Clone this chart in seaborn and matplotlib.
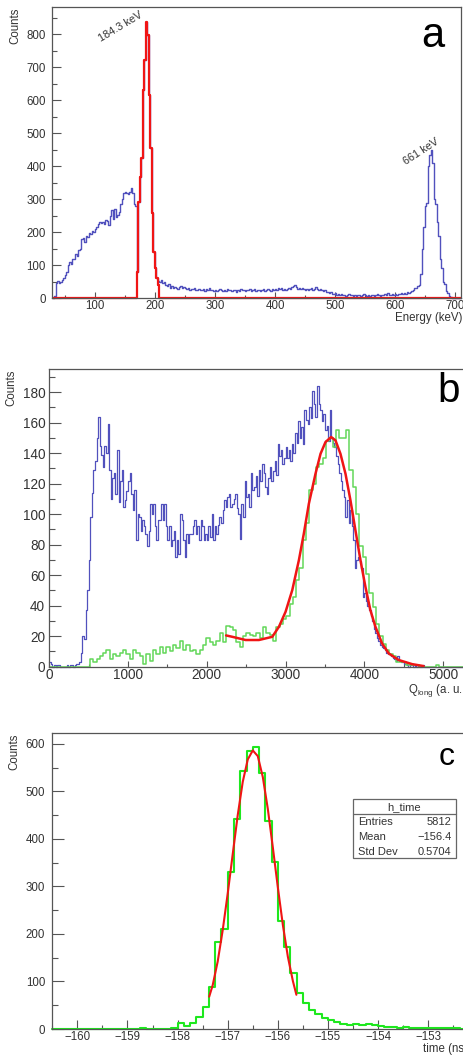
import numpy as np
import matplotlib
matplotlib.use("Agg")
import matplotlib.pyplot as plt
from matplotlib.patches import Rectangle
from matplotlib.ticker import MultipleLocator
import seaborn as sns

# ---------------- panel a : energy spectrum, 2.5 keV bins ----------------
a_start, a_width = 29.5, 2.5
a_blue = [
    0, 8, 45, 52, 45, 50, 55, 62, 72, 80,
    100, 110, 105, 118, 120, 135, 128, 145, 150, 180,
    182, 170, 190, 185, 198, 195, 205, 200, 210, 215,
    225, 232, 228, 230, 226, 238, 234, 222, 250, 268,
    240, 272, 245, 252, 262, 285, 300, 318, 322, 320,
    315, 322, 333, 318, 285, 280, 81, 293, 369, 424,
    631, 722, 838, 798, 616, 455, 258, 141, 91, 61,
    52,
    48, 55, 45, 50, 40, 38, 42, 32, 36, 30,
    34, 30, 28, 33, 38, 30, 35, 32, 28, 30,
    26, 29, 27, 31, 26, 25, 28, 26, 24, 29,
    22, 27, 25, 30, 24, 26, 23, 25, 22, 26,
    28, 24, 22, 25, 23, 27, 24, 26, 22, 25,
    24, 20, 26, 23, 28, 24, 25, 22, 26, 24,
    27, 22, 24, 27, 23, 26, 24, 22, 25, 27,
    23, 26, 28, 25, 22, 27, 24, 28, 25, 30,
    27, 31, 26, 29, 25, 28, 30, 27, 33, 36,
    40, 33, 29, 31, 27, 30, 28, 26, 29, 24,
    27, 30, 26, 29, 33, 27, 25, 28, 24, 21,
    24, 19, 20, 16, 18, 14, 12, 15, 11, 13,
    10, 12, 9, 11, 8, 10, 12, 9, 11, 8,
    10, 7, 9, 11, 8, 10, 12, 9, 7, 10,
    8, 11, 9, 7, 10, 12, 9, 8, 11, 9,
    13, 10, 16, 11, 9, 12, 10, 13, 11, 14,
    12, 15, 13, 16, 14, 18, 15, 19, 22, 25,
    30, 32, 38, 40, 75, 150, 215, 280, 290, 400,
    435, 450, 410, 300, 285, 230, 190, 120, 92, 50,
    42, 22, 15, 8, 4, 2, 1, 0, 1, 0, 0,
]
a_red_from = 169.5
a_red = [81, 293, 369, 424, 631, 722, 838, 798, 616, 455, 258, 141, 91, 61, 40]

# ---------------- panel b : Q_long, blue 20 a.u. bins, green 42.25 a.u. bins ----------------
b_blue_start, b_blue_width = 0.0, 20.0
b_blue = [
    3, 2, 0, 1, 0, 1, 1, 0, 0, 0,
    0, 1, 0, 1, 1, 0, 1, 2, 2, 3,
    9, 20, 18, 37, 50, 70, 98, 114, 129, 135,
    150, 164, 145, 139, 131, 145, 140, 159, 129, 110,
    124, 127, 113, 142, 108, 122, 129, 105, 109, 115,
    122, 127, 113, 103, 116, 83, 100, 98, 89, 96,
    92, 87, 79, 89, 107, 100, 107, 92, 83, 96,
    96, 107, 96, 107, 92, 83, 92, 79, 83, 89,
    72, 83, 74, 100, 96, 83, 72, 87, 81, 87,
    87, 92, 96, 87, 92, 83, 96, 92, 83, 87,
    83, 92, 85, 100, 83, 92, 87, 93, 98, 94,
    103, 109, 105, 111, 113, 105, 107, 110, 113, 104,
    100, 84, 107, 98, 122, 111, 113, 105, 127, 116,
    118, 125, 112, 129, 122, 133, 127, 118, 113, 124,
    131, 122, 128, 135, 126, 146, 138, 142, 133, 137,
    144, 137, 142, 135, 146, 140, 153, 147, 161, 150,
    157, 146, 168, 162, 159, 170, 163, 181, 172, 164,
    184, 172, 168, 161, 166, 155, 158, 148, 168, 150,
    147, 144, 138, 133, 127, 122, 116, 111, 98, 109,
    94, 103, 92, 83, 65, 70, 72, 69, 65, 46,
    48, 43, 40, 37, 33, 30, 25, 22, 19, 17,
    14, 13, 12, 11, 9, 8, 8, 7, 6, 5,
    4, 7, 4, 3, 3, 2, 2, 1, 0, 1,
    1, 0, 1, 0, 1, 0, 0, 1, 0, 0,
    0, 0, 0, 0, 0, 0, 0, 0, 0, 0,
    0, 0, 0, 0, 0, 0, 0, 0, 0, 0,
    0, 0, 0, 0, 0,
]
b_green_start, b_green_width = 8.0, 42.25
b_green = [
    0, 0, 0, 0, 0, 0, 0, 0, 0, 0, 0, 0,
    5, 3, 5, 7, 9, 11, 5, 8, 7, 9, 11, 8, 5, 11, 9, 7, 2, 8, 4, 11, 8,
    13, 9, 13, 10, 14, 12, 17, 11, 14, 10, 11, 8, 11, 14, 19, 16, 14, 17,
    22, 16, 27, 26,
    24, 16, 13, 20, 22, 21, 20, 22, 19, 26, 22, 21, 17, 26, 28, 31, 33,
    41, 46, 57, 65, 83, 94, 116, 120, 131, 133, 137, 148, 150, 144, 155,
    150, 150, 155, 129, 118, 100, 79, 72, 61, 48, 39, 28, 20, 15, 11, 8,
    7, 3, 3, 3, 1, 1, 1, 1,
    0, 0, 0, 0, 0, 1, 0, 0, 0, 0, 0, 0, 0, 0, 0,
]
b_fit_x = [2245, 2324, 2493, 2662, 2831, 2916, 3000, 3085, 3169, 3232,
           3296, 3380, 3444, 3507, 3579, 3634, 3697, 3761, 3824, 3887,
           3951, 4014, 4077, 4141, 4225, 4310, 4436, 4606, 4753]
b_fit_y = [20.5, 19.6, 17.5, 17.5, 19.6, 26.2, 36.0, 50.2, 69.8, 87.3,
           106.9, 126.5, 139.6, 147.3, 150.6, 148.4, 139.6, 126.5, 109.1, 89.5,
           69.8, 52.4, 37.1, 26.2, 15.3, 8.7, 4.4, 1.7, 0.4]

# ---------------- panel c : time, 0.125 ns bins ----------------
c_start, c_width = -160.5, 0.125
c_green = [
    0, 0, 0, 0, 0, 1, 0, 0, 0, 0,
    0, 0, 1, 0, 2, 0, 0, 1, 0, 2,
    13, 6, 12, 26, 47, 88, 184, 210, 331, 441,
    543, 585, 594, 539, 438, 352, 227, 173, 118, 75,
    55, 41, 31, 24, 19, 14, 10, 8, 10, 8,
    10, 9, 7, 5, 4, 3, 4, 3, 3, 2,
    3, 2, 2, 2, 2, 1,
]
c_fit_x = [-157.37, -157.3, -157.2, -157.1, -157.0, -156.9, -156.8, -156.7, -156.6, -156.5,
           -156.4, -156.3, -156.2, -156.1, -156.0, -155.9, -155.8, -155.7, -155.63]
c_fit_y = [68, 92, 142, 208, 285, 368, 450, 520, 567, 586,
           574, 530, 463, 382, 298, 219, 152, 101, 72]
c_stats = [("Entries", "5812"), ("Mean", "\u2212156.4"), ("Std Dev", "0.5704")]

BLUE = "#5151bd"
RED = "#f01515"
GREEN_B = "#63d75a"
GREEN_C = "#1ee81e"
FRAME = "#555555"
TXT = "#333333"

sns.set_theme(style="white")
plt.rcParams["font.family"] = ["Liberation Sans Narrow", "Liberation Sans", "DejaVu Sans"]
plt.rcParams["axes.unicode_minus"] = True

W, H = 464, 1057
fig = plt.figure(figsize=(W / 100, H / 100), dpi=100)


def rect(l, t, r, b):
    return [l / W, 1 - b / H, (r - l) / W, (b - t) / H]


def px(x, y):
    return x / W, 1 - y / H


def draw_hist(ax, start, width, counts, color, lw):
    counts = np.asarray(counts, dtype=float)
    centers = start + width * (np.arange(len(counts)) + 0.5)
    sns.histplot(x=centers, weights=counts, binwidth=width,
                 binrange=(start, start + width * len(counts)),
                 element="step", fill=False, color=color, linewidth=lw,
                 ax=ax, clip_on=False)


def style_axis(ax, xmaj, xmin, ymaj, ymin, size, ypad, xpad, ylen, xlen):
    ax.set_xlabel("")
    ax.set_ylabel("")
    for s in ax.spines.values():
        s.set_color(FRAME)
        s.set_linewidth(0.9)
    ax.xaxis.set_major_locator(MultipleLocator(xmaj))
    ax.xaxis.set_minor_locator(MultipleLocator(xmin))
    ax.yaxis.set_major_locator(MultipleLocator(ymaj))
    ax.yaxis.set_minor_locator(MultipleLocator(ymin))
    ax.tick_params(which="both", direction="in", top=False, right=False,
                   bottom=True, left=True, color=FRAME, labelcolor=TXT, width=0.8)
    ax.tick_params(axis="y", which="major", length=ylen[0], labelsize=size, pad=ypad)
    ax.tick_params(axis="y", which="minor", length=ylen[1])
    ax.tick_params(axis="x", which="major", length=xlen[0], labelsize=size, pad=xpad)
    ax.tick_params(axis="x", which="minor", length=xlen[1])


# ---- panel a
ax_a = fig.add_axes(rect(52.3, 7.3, 461.0, 298.3))
draw_hist(ax_a, a_start, a_width, a_blue, BLUE, 1.0)
red_full = np.zeros(len(a_blue))
i0 = int(round((a_red_from - a_start) / a_width))
red_full[i0:i0 + len(a_red)] = a_red
draw_hist(ax_a, a_start, a_width, red_full, RED, 1.6)
ax_a.set_xlim(28.8, 710)
ax_a.set_ylim(0, 882)
style_axis(ax_a, 100, 50, 100, 50, 8.3, 4.7, 1.2, (6.5, 3.6), (4.1, 2.4))

# ---- panel b
ax_b = fig.add_axes(rect(49.3, 369.3, 466.7, 666.7))
draw_hist(ax_b, b_blue_start, b_blue_width, b_blue, BLUE, 0.9)
draw_hist(ax_b, b_green_start, b_green_width, b_green, GREEN_B, 1.1)
sns.lineplot(x=b_fit_x, y=b_fit_y, color=RED, linewidth=1.8, ax=ax_b, estimator=None)
ax_b.set_xlim(0, 5300)
ax_b.set_ylim(0, 195)
style_axis(ax_b, 1000, 500, 20, 10, 9.8, 3.0, 1.2, (8.8, 4.1), (4.3, 2.5))

# ---- panel c
ax_c = fig.add_axes(rect(52.3, 733.3, 468.3, 1029.0))
draw_hist(ax_c, c_start, c_width, c_green, GREEN_C, 1.5)
sns.lineplot(x=c_fit_x, y=c_fit_y, color=RED, linewidth=1.5, ax=ax_c, estimator=None)
ax_c.set_xlim(-160.5, -152.2)
ax_c.set_ylim(0, 622)
style_axis(ax_c, 1, 0.5, 100, 50, 8.3, 5.2, 1.2, (8.4, 4.3), (6.5, 2.9))

# stats box
bx0, bx1, by0, by1, bdiv = 0.722, 0.970, 0.578, 0.778, 0.726
ax_c.add_patch(Rectangle((bx0, by0), bx1 - bx0, by1 - by0, transform=ax_c.transAxes,
                         facecolor="white", edgecolor="#666666", linewidth=0.9, zorder=5))
ax_c.plot([bx0, bx1], [bdiv, bdiv], transform=ax_c.transAxes, color="#666666",
          linewidth=0.9, zorder=6)
ax_c.text((bx0 + bx1) / 2, 0.752, "h_time", transform=ax_c.transAxes, ha="center",
          va="center", fontsize=8, color=TXT, zorder=7)
for row, (name, val) in enumerate(c_stats):
    yy = 0.701 - 0.0505 * row
    ax_c.text(0.735, yy, name, transform=ax_c.transAxes, ha="left", va="center",
              fontsize=8, color=TXT, zorder=7)
    ax_c.text(0.959, yy, val, transform=ax_c.transAxes, ha="right", va="center",
              fontsize=8, color=TXT, zorder=7)

# axis titles and labels
for (cx, top) in [(15.8, 7.3), (11.5, 369.5), (14.7, 733.5)]:
    fig.text(*px(cx, top), "Counts", rotation=90, ha="center", va="top",
             fontsize=8.3, color=TXT, family=["Liberation Sans", "DejaVu Sans"])
fig.text(*px(462, 321.5), "Energy (keV)", ha="right", va="baseline", fontsize=8.3, color=TXT)
fig.text(*px(467.5, 693), "Q$_{\\mathregular{long}}$ (a. u.)", ha="right", va="baseline",
         fontsize=8.3, color=TXT)
fig.text(*px(467.5, 1052), "time (ns)", ha="right", va="baseline", fontsize=8.3, color=TXT)

fig.text(*px(120.7, 26.7), "184.3 keV", rotation=31, ha="center", va="center",
         fontsize=7.8, color=TXT)
fig.text(*px(421, 151.7), "661 keV", rotation=33, ha="center", va="center",
         fontsize=7.8, color=TXT)

letter_font = ["Liberation Sans", "DejaVu Sans"]
fig.text(*px(433, 46.7), "a", ha="center", va="baseline", fontsize=30, color="black",
         family=letter_font)
fig.text(*px(448.7, 401.7), "b", ha="center", va="baseline", fontsize=29, color="black",
         family=letter_font)
fig.text(*px(447, 765), "c", ha="center", va="baseline", fontsize=23, color="black",
         family=letter_font)

fig.savefig("out.png", dpi=100)
